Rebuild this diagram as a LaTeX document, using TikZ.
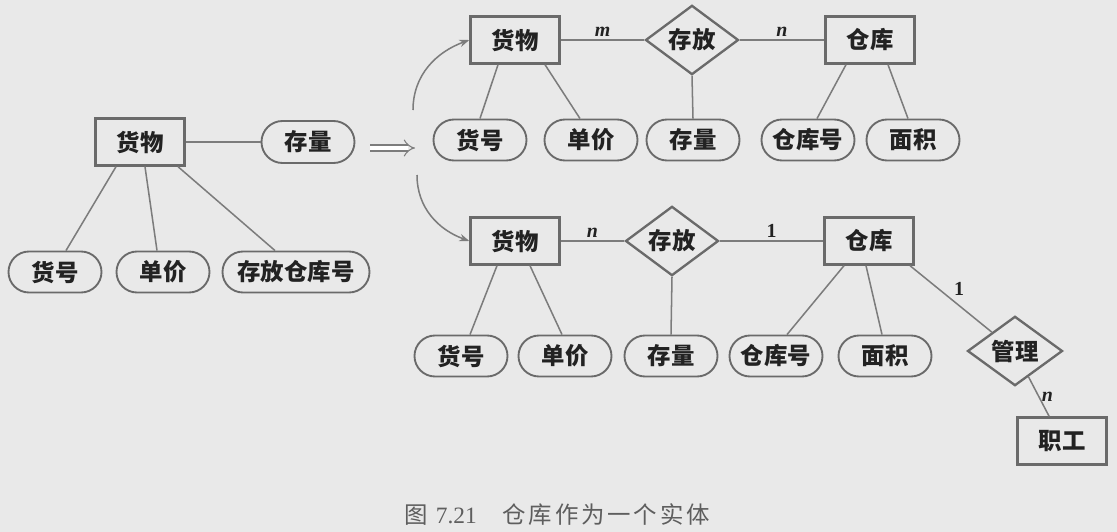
\documentclass[tikz,border=0pt]{standalone}
\usepackage{fontspec}
\usetikzlibrary{arrows.meta,positioning,calc,shapes.geometric,shapes.misc}
\newfontfamily\cjk{Noto Sans CJK SC}
\newfontfamily\capfont{Noto Sans CJK SC}[LetterSpace=12]
\newfontfamily\lat{Liberation Serif}
\definecolor{Paper}{HTML}{E9E9E9}
\definecolor{Frame}{HTML}{6A6A6A}
\definecolor{Wire}{HTML}{7C7C7C}
\definecolor{Ink}{HTML}{222222}
\definecolor{CapGray}{HTML}{5E5E5E}

\begin{document}
\begin{tikzpicture}[x=0.03cm,y=-0.03cm,>=Stealth]
    \tikzset{
      entity/.style={draw=Frame,fill=Paper,line width=2pt,minimum width=2.67cm,minimum height=1.41cm,
                   inner sep=0pt,text=Ink,font=\cjk\bfseries\fontsize{20}{24}\selectfont},
      attr/.style={rounded rectangle,draw=Frame,fill=Paper,line width=1.6pt,minimum width=2.79cm,
                   minimum height=1.23cm,inner sep=0pt,text=Ink,font=\cjk\bfseries\fontsize{20}{24}\selectfont},
      rel/.style={diamond,draw=Frame,fill=Paper,line width=2pt,minimum width=2.79cm,minimum height=1.8cm,
                   inner sep=0pt,text=Ink,font=\cjk\bfseries\fontsize{20}{24}\selectfont},
      link/.style={draw=Wire,line width=1.3pt},
      card/.style={text=Ink,inner sep=2pt,font=\lat\bfseries\fontsize{17}{19}\selectfont},
      flow/.style={draw=Wire,line width=1.3pt,-{Stealth[length=3mm,width=2.2mm]}}
    }
    \fill[Paper] (0,0) rectangle (1117,532);

    % original entity
    \node[entity] (g0) at (140,142) {货物};
    \node[attr,minimum height=1.26cm] (g0q) at (308,142) {存量};
    \node[attr] (g0h) at (55,272) {货号};
    \node[attr] (g0p) at (163,272) {单价};
    \node[attr,minimum width=4.41cm] (g0w) at (296,272) {存放仓库号};
    \draw[link] (g0) -- (g0q);
    \draw[link] ($(g0.south)+(-24,0)$) -- ($(g0h.north)+(11,0)$);
    \draw[link] ($(g0.south)+(5,0)$) -- ($(g0p.north)+(-6,0)$);
    \draw[link] ($(g0.south)+(38,0)$) -- ($(g0w.north)+(-21,0)$);

    % transition arrows
    \coordinate (dl) at (370,148);
    \coordinate (dr) at (415,148);
    \draw[Wire,line width=0.9pt,double,double distance=4.2pt,-{Implies[length=3mm,width=5.5mm]}] (dl) -- (dr);
    \coordinate (up0) at (413,110);
    \coordinate (dn0) at (417,175);

    % first variant
    \node[entity] (g1) at (515,40) {货物};
    \node[rel] (s1) at (692,40) {存放};
    \node[entity] (c1) at (870,40) {仓库};
    \node[attr] (g1h) at (480,140) {货号};
    \node[attr] (g1p) at (591,140) {单价};
    \node[attr] (s1q) at (693,140) {存量};
    \node[attr] (c1n) at (808,140) {仓库号};
    \node[attr] (c1a) at (913,140) {面积};
    \draw[link] (g1) -- node[card,above,font=\lat\bfseries\itshape\fontsize{17}{19}\selectfont] {m} (s1);
    \draw[link] (s1) -- node[card,above,font=\lat\bfseries\itshape\fontsize{17}{19}\selectfont] {n} (c1);
    \draw[link] ($(g1.south)+(-17,0)$) -- (g1h.north);
    \draw[link] ($(g1.south)+(30,0)$) -- ($(g1p.north)+(-11,0)$);
    \draw[link] (s1.south) -- (s1q.north);
    \draw[link] ($(c1.south)+(-24,0)$) -- ($(c1n.north)+(9,0)$);
    \draw[link] ($(c1.south)+(18,0)$) -- ($(c1a.north)+(-5,0)$);
    \draw[flow] (up0) to[out=90,in=200] (g1.west);

    % second variant
    \node[entity] (g2) at (515,241) {货物};
    \node[rel] (s2) at (672,241) {存放};
    \node[entity] (c2) at (869,241) {仓库};
    \node[attr] (g2h) at (461,356) {货号};
    \node[attr] (g2p) at (565,356) {单价};
    \node[attr] (s2q) at (671,356) {存量};
    \node[attr] (c2n) at (776,356) {仓库号};
    \node[attr] (c2a) at (885,356) {面积};
    \node[rel,minimum width=2.85cm] (mg) at (1015,351) {管理};
    \node[entity] (zg) at (1062,441) {职工};
    \draw[link] (g2) -- node[card,above,font=\lat\bfseries\itshape\fontsize{17}{19}\selectfont] {n} (s2);
    \draw[link] (s2) -- node[card,above] {1} (c2);
    \draw[link] ($(g2.south)+(-18,0)$) -- ($(g2h.north)+(9,0)$);
    \draw[link] ($(g2.south)+(15,0)$) -- ($(g2p.north)+(-3,0)$);
    \draw[link] (s2.south) -- (s2q.north);
    \draw[link] ($(c2.south)+(-25,0)$) -- ($(c2n.north)+(11,0)$);
    \draw[link] ($(c2.south)+(-3,0)$) -- ($(c2a.north)+(-3,0)$);
    \draw[link] ($(c2.south)+(41,0)$) -- node[card,above right] {1} (mg);
    \draw[link] (mg) -- node[card,right,font=\lat\bfseries\itshape\fontsize{17}{19}\selectfont] {n} (zg);
    \draw[flow] (dn0) to[out=-90,in=160] (g2.west);

    \node[text=CapGray,font=\capfont\fontsize{20}{24}\selectfont] (cap) at (557,515)
          {图 {\lat 7.21}\hspace{1.1em}仓库作为一个实体};
\end{tikzpicture}
\end{document}
